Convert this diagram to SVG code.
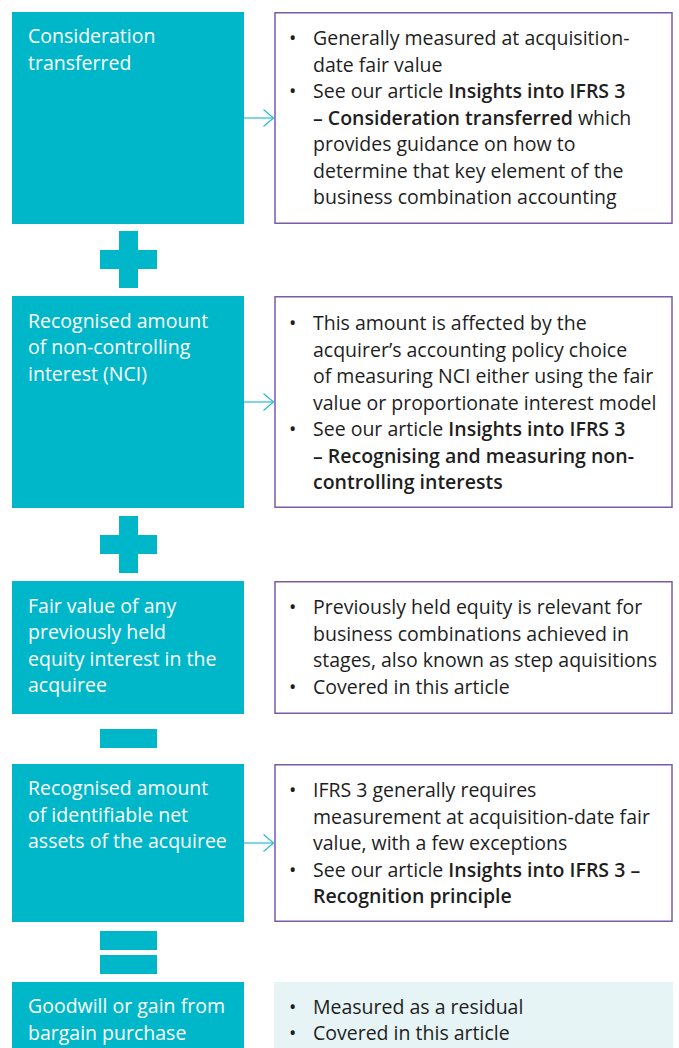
<svg xmlns="http://www.w3.org/2000/svg" width="679" height="1048" viewBox="0 0 679 1048">
<defs>
<style>
.teal{fill:#00b7c9}
.op{fill:#00b7c9}
.info{fill:#ffffff;stroke:#7c5ba6;stroke-width:1.5}
.soft{fill:#e6f4f5}
.lt{font-family:"Open Sans","Liberation Sans",sans-serif;font-size:19.5px;fill:#ffffff}
.rt{font-family:"Open Sans","Liberation Sans",sans-serif;font-size:19.5px;fill:#1e1e1e}
.b{font-weight:600}
.conn{stroke:#27bdd0;stroke-width:1.2;fill:none}
</style>
<marker id="arr" markerUnits="userSpaceOnUse" markerWidth="14" markerHeight="20" refX="11" refY="9.5" orient="auto">
<path d="M1,1 L11,9.5 L1,18" fill="none" stroke="#27bdd0" stroke-width="1.2"/>
</marker>
</defs>
<rect width="679" height="1048" fill="#ffffff"/>

<g id="node-consideration">
<rect class="teal" x="12" y="12" width="232" height="212"/>
<text class="lt" x="28" y="43">Consideration</text>
<text class="lt" x="28" y="70">transferred</text>
</g>
<g id="info-consideration">
<rect class="info" x="275" y="12.75" width="397" height="210.5"/>
<text class="rt" x="289" y="45">•</text><text class="rt" x="313" y="45">Generally measured at acquisition-</text>
<text class="rt" x="313" y="71.5">date fair value</text>
<text class="rt" x="289" y="98">•</text><text class="rt" x="313" y="98">See our article <tspan class="b">Insights into IFRS 3</tspan></text>
<text class="rt" x="313" y="124.5"><tspan class="b">– Consideration transferred</tspan> which</text>
<text class="rt" x="313" y="151">provides guidance on how to</text>
<text class="rt" x="313" y="177.5">determine that key element of the</text>
<text class="rt" x="313" y="204">business combination accounting</text>
</g>

<g id="op-plus-1">
<rect class="op" x="119" y="231" width="19" height="57"/>
<rect class="op" x="100" y="250" width="57" height="19"/>
</g>

<g id="node-nci">
<rect class="teal" x="12" y="296" width="232" height="212"/>
<text class="lt" x="28" y="327.5">Recognised amount</text>
<text class="lt" x="28" y="354">of non-controlling</text>
<text class="lt" x="28" y="380.5">interest (NCI)</text>
</g>
<g id="info-nci">
<rect class="info" x="275" y="296.75" width="397" height="210.5"/>
<text class="rt" x="289" y="330">•</text><text class="rt" x="313" y="330">This amount is affected by the</text>
<text class="rt" x="313" y="356.5">acquirer’s accounting policy choice</text>
<text class="rt" x="313" y="383">of measuring NCI either using the fair</text>
<text class="rt" x="313" y="409.5">value or proportionate interest model</text>
<text class="rt" x="289" y="436">•</text><text class="rt" x="313" y="436">See our article <tspan class="b">Insights into IFRS 3</tspan></text>
<text class="rt b" x="313" y="462.5">– Recognising and measuring non-</text>
<text class="rt b" x="313" y="489">controlling interests</text>
</g>

<g id="op-plus-2">
<rect class="op" x="119" y="516" width="19" height="57"/>
<rect class="op" x="100" y="535" width="57" height="19"/>
</g>

<g id="node-previously-held">
<rect class="teal" x="12" y="581" width="232" height="133"/>
<text class="lt" x="28" y="612.5">Fair value of any</text>
<text class="lt" x="28" y="639">previously held</text>
<text class="lt" x="28" y="665.5">equity interest in the</text>
<text class="lt" x="28" y="692">acquiree</text>
</g>
<g id="info-previously-held">
<rect class="info" x="275" y="581.75" width="397" height="131.5"/>
<text class="rt" x="289" y="614">•</text><text class="rt" x="313" y="614">Previously held equity is relevant for</text>
<text class="rt" x="313" y="640.5">business combinations achieved in</text>
<text class="rt" x="313" y="667">stages, also known as step aquisitions</text>
<text class="rt" x="289" y="693.5">•</text><text class="rt" x="313" y="693.5">Covered in this article</text>
</g>

<g id="op-minus">
<rect class="op" x="100" y="729" width="57" height="19"/>
</g>

<g id="node-net-assets">
<rect class="teal" x="12" y="764" width="232" height="158"/>
<text class="lt" x="28" y="795">Recognised amount</text>
<text class="lt" x="28" y="821.5">of identifiable net</text>
<text class="lt" x="28" y="848">assets of the acquiree</text>
</g>
<g id="info-net-assets">
<rect class="info" x="275" y="764.75" width="397" height="156.5"/>
<text class="rt" x="289" y="797">•</text><text class="rt" x="313" y="797">IFRS 3 generally requires</text>
<text class="rt" x="313" y="823.5">measurement at acquisition-date fair</text>
<text class="rt" x="313" y="850">value, with a few exceptions</text>
<text class="rt" x="289" y="876.5">•</text><text class="rt" x="313" y="876.5">See our article <tspan class="b">Insights into IFRS 3 –</tspan></text>
<text class="rt b" x="313" y="903">Recognition principle</text>
</g>

<g id="op-equals">
<rect class="op" x="100" y="931" width="57" height="19"/>
<rect class="op" x="100" y="955" width="57" height="19"/>
</g>

<g id="node-goodwill">
<rect class="teal" x="12" y="982" width="232" height="66"/>
<text class="lt" x="28" y="1013">Goodwill or gain from</text>
<text class="lt" x="28" y="1039.5">bargain purchase</text>
</g>
<g id="info-goodwill">
<rect class="soft" x="274" y="982" width="399" height="66"/>
<text class="rt" x="289" y="1013.5">•</text><text class="rt" x="313" y="1013.5">Measured as a residual</text>
<text class="rt" x="289" y="1040">•</text><text class="rt" x="313" y="1040">Covered in this article</text>
</g>

<g id="connectors">
<line class="conn" x1="244" y1="118" x2="273.5" y2="118" marker-end="url(#arr)"/>
<line class="conn" x1="244" y1="402" x2="273.5" y2="402" marker-end="url(#arr)"/>
<line class="conn" x1="244" y1="843" x2="273.5" y2="843" marker-end="url(#arr)"/>
</g>
</svg>
